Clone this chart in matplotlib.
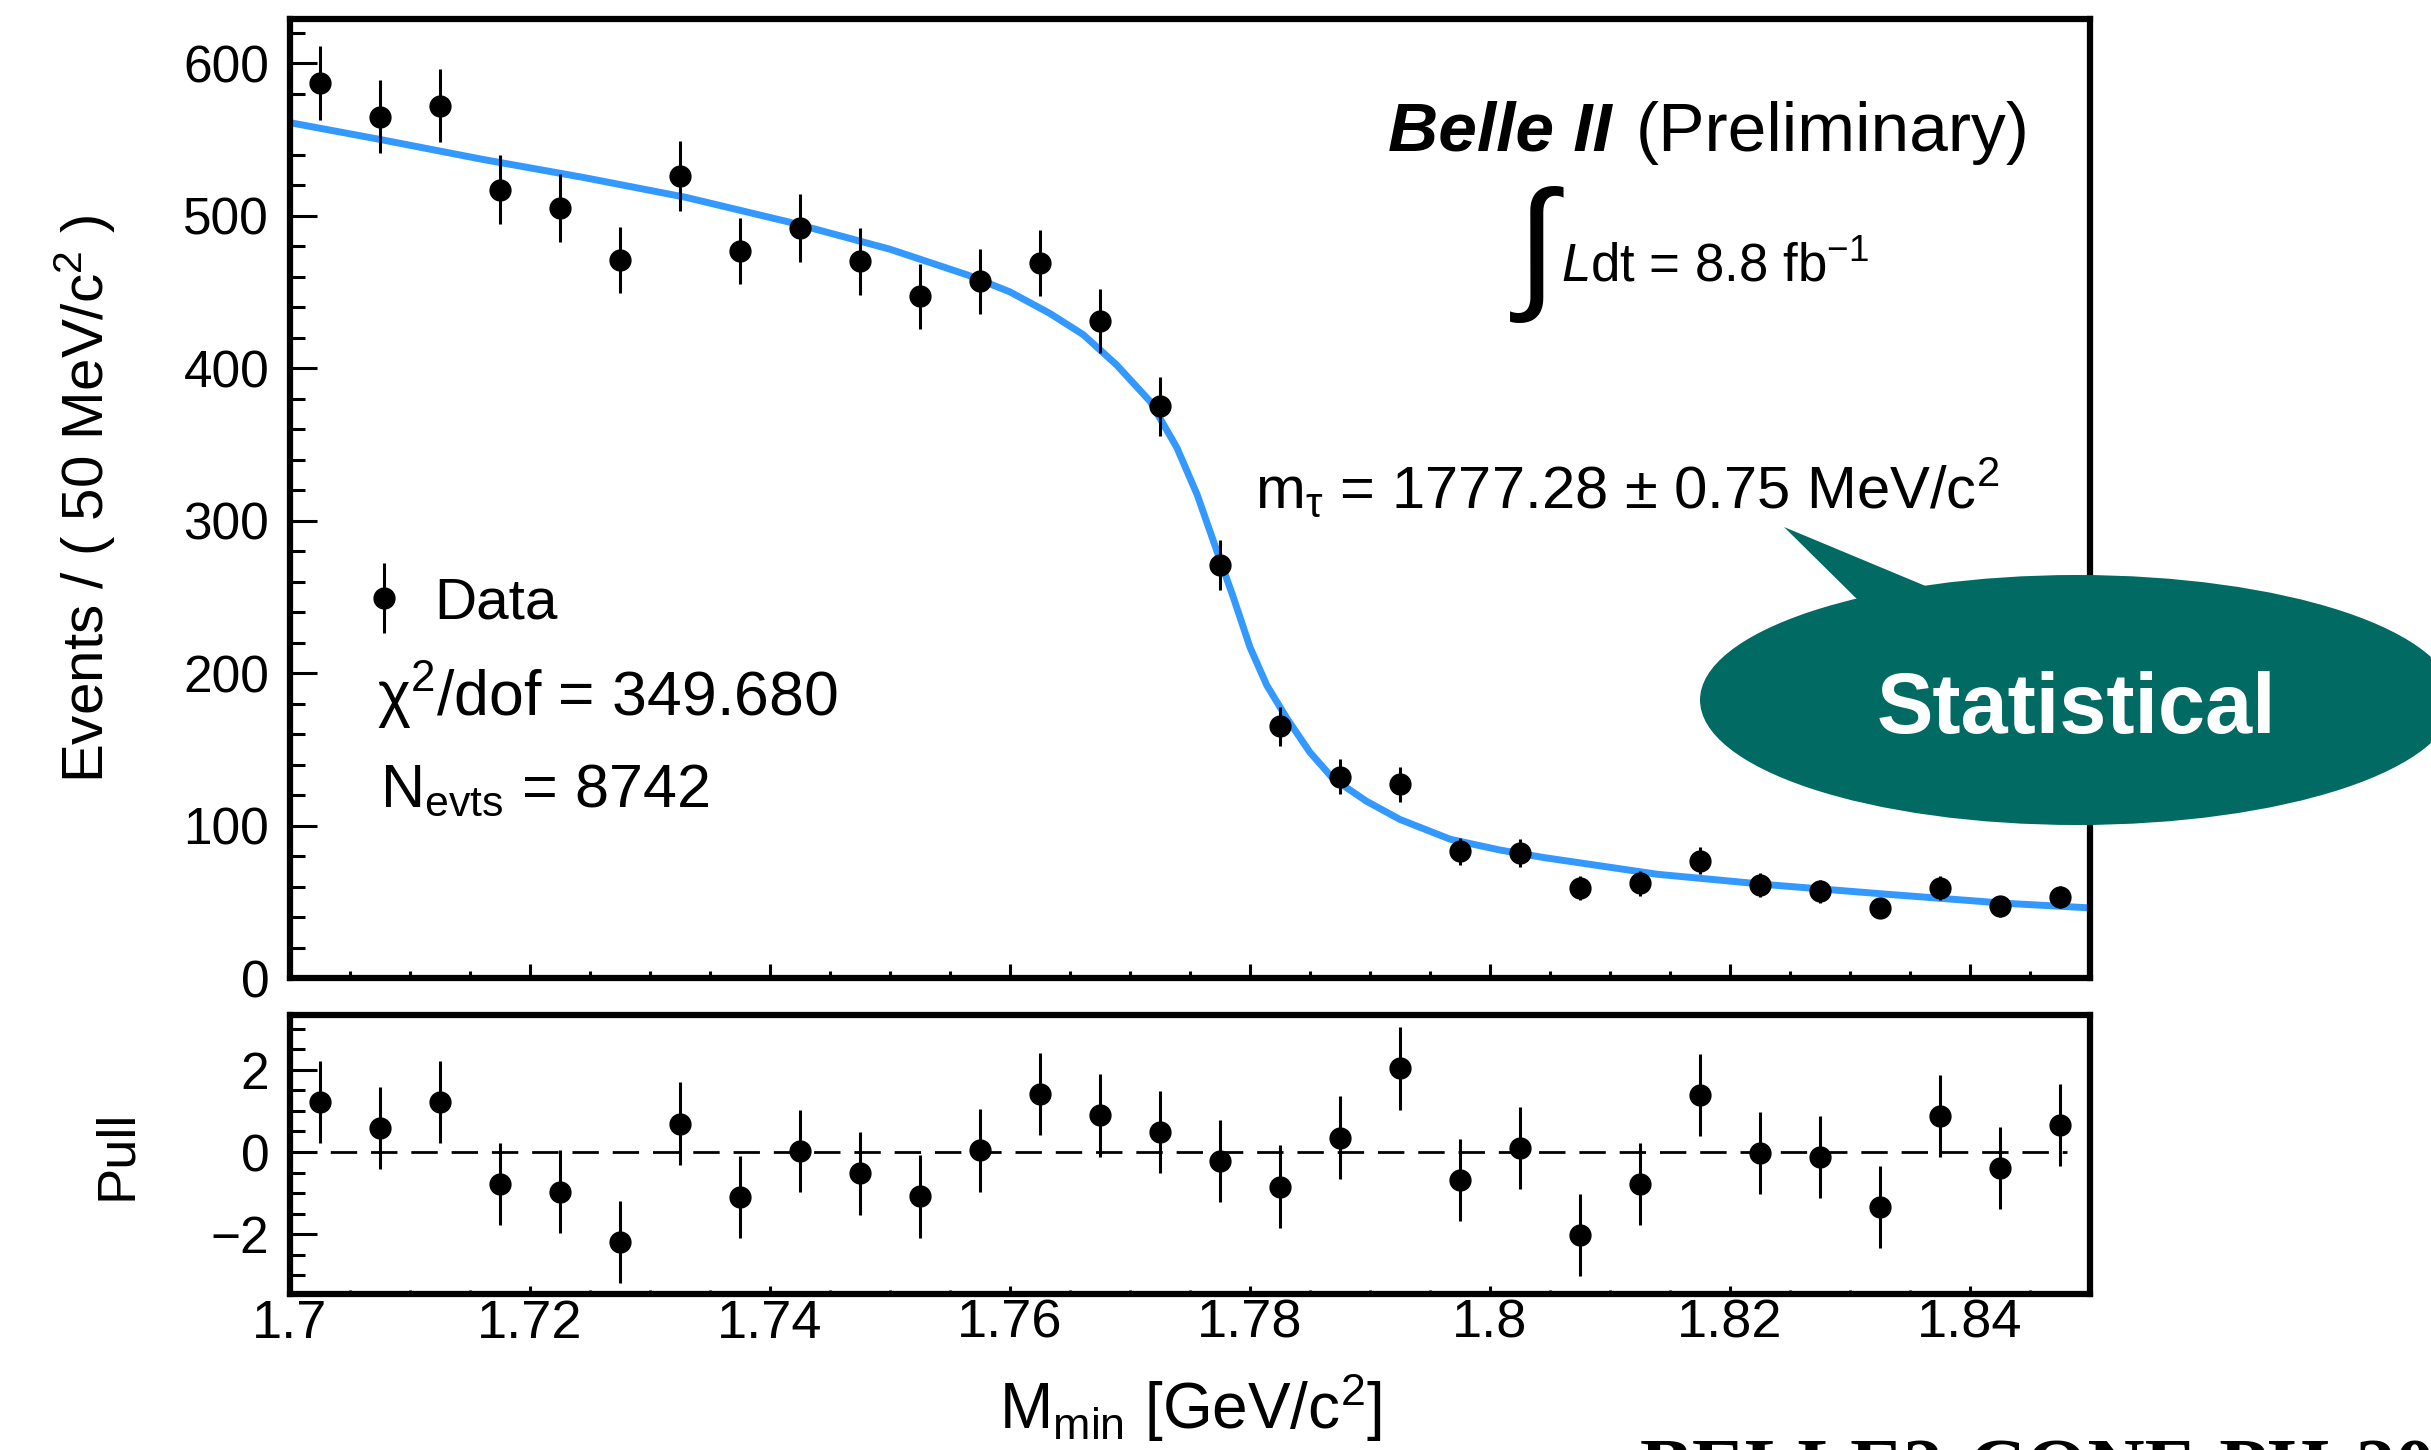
import matplotlib
matplotlib.use("Agg")
import matplotlib.pyplot as plt
from matplotlib.ticker import MultipleLocator, FixedLocator, FuncFormatter
from matplotlib.patches import Ellipse, Polygon
from matplotlib.container import ErrorbarContainer
from matplotlib.legend_handler import HandlerErrorbar

plt.rcParams['font.family'] = ['Liberation Sans', 'DejaVu Sans']
plt.rcParams['mathtext.fontset'] = 'custom'
plt.rcParams['mathtext.rm'] = 'Liberation Sans'
plt.rcParams['mathtext.it'] = 'Liberation Sans:italic'
plt.rcParams['mathtext.bf'] = 'Liberation Sans:bold'
plt.rcParams['mathtext.default'] = 'regular'

#Data: bin centres, counts and errors
bin_x = [1.7025, 1.7075, 1.7125, 1.7175, 1.7225, 1.7275, 1.7325, 1.7375, 1.7425, 1.7475,
         1.7525, 1.7575, 1.7625, 1.7675, 1.7725, 1.7775, 1.7825, 1.7875, 1.7925, 1.7975,
         1.8025, 1.8075, 1.8125, 1.8175, 1.8225, 1.8275, 1.8325, 1.8375, 1.8425, 1.8475]
counts = [587, 565, 572, 517, 505, 471, 526, 477, 492, 470,
          447, 457, 469, 431, 375, 271, 165, 132, 127, 83,
          82, 59, 62, 77, 61, 57, 46, 59, 47, 53]
count_err = [24.2, 23.8, 23.9, 22.7, 22.5, 21.7, 22.9, 21.8, 22.2, 21.7,
             21.1, 21.4, 21.7, 20.8, 19.4, 16.5, 12.8, 11.5, 11.3, 9.1,
             9.1, 7.7, 7.9, 8.8, 7.8, 7.5, 6.8, 7.7, 6.9, 7.3]

#Fit curve
curve_x = [1.7000, 1.7075, 1.7160, 1.7245, 1.7330, 1.7415, 1.7500, 1.7565, 1.7600, 1.7633,
           1.7661, 1.7689, 1.7717, 1.7739, 1.7756, 1.7772, 1.7786, 1.7800, 1.7814, 1.7831,
           1.7850, 1.7869, 1.7897, 1.7925, 1.7967, 1.8008, 1.8045, 1.8140, 1.8235, 1.8330,
           1.8430, 1.8500]
curve_y = [561, 550, 537, 525, 512, 496, 478, 461, 450, 436,
           422, 402, 378, 348, 317, 281, 250, 217, 192, 170,
           148, 131, 116, 104, 91, 84, 79, 68, 61, 55,
           49, 46]

#Pulls
pulls = [1.22, 0.59, 1.21, -0.78, -0.96, -2.19, 0.69, -1.10, 0.02, -0.52,
         -1.08, 0.04, 1.41, 0.89, 0.49, -0.21, -0.84, 0.35, 2.03, -0.68,
         0.10, -2.02, -0.78, 1.38, -0.02, -0.12, -1.33, 0.87, -0.39, 0.66]
pull_err = [1, 1, 1, 1, 1, 1, 1, 1, 1, 1, 1, 1, 1, 1, 1, 1, 1, 1, 1, 1,
            1, 1, 1, 1, 1, 1, 1, 1, 1, 1]

W, H = 2431, 1450
fig = plt.figure(figsize=(W / 100, H / 100), dpi=100)
ax = fig.add_axes([0.1193, 0.3255, 0.7404, 0.6614])
axp = fig.add_axes([0.1193, 0.1076, 0.7404, 0.1924])

#Main panel
ax.plot(curve_x, curve_y, color="#3399ff", lw=5, zorder=2, solid_joinstyle="round")
ax.errorbar(bin_x, counts, yerr=count_err, fmt="o", color="k", ms=15,
            elinewidth=2.2, capsize=0, label="Data", zorder=3)
ax.set_xlim(1.7, 1.85)
ax.set_ylim(0, 629)
ax.xaxis.set_major_locator(MultipleLocator(0.02))
ax.xaxis.set_minor_locator(MultipleLocator(0.005))
ax.yaxis.set_major_locator(MultipleLocator(100))
ax.yaxis.set_minor_locator(MultipleLocator(20))
ax.tick_params(axis="x", which="major", direction="in", length=10, width=2.2, labelbottom=False)
ax.tick_params(axis="x", which="minor", direction="in", length=5.4, width=2.2)
ax.tick_params(axis="y", which="major", direction="in", length=19.4, width=2.2, labelsize=37, pad=15)
ax.tick_params(axis="y", which="minor", direction="in", length=10.8, width=2.2)
ax.set_ylabel("Events / ( 50 MeV/c$^{2}$ )", fontsize=42)
ax.yaxis.set_label_coords(-0.0956, 0.5)

ax.legend(loc="center left", bbox_to_anchor=(0.0393, 0.391), frameon=False, fontsize=42,
          handlelength=0.8, handletextpad=0.46, borderpad=0, borderaxespad=0, numpoints=1,
          handler_map={ErrorbarContainer: HandlerErrorbar(yerr_size=0.6)})
ax.text(0.0483, 0.2732, r"$\chi^{2}$/dof = 349.680", transform=ax.transAxes, fontsize=45, va="baseline")
ax.text(0.05, 0.1794, r"N$_{evts}$ = 8742", transform=ax.transAxes, fontsize=44, va="baseline")

ax.text(0.7344, 0.8624, "Belle II", transform=ax.transAxes, fontsize=50, fontweight="bold",
        fontstyle="italic", ha="right", va="baseline")
ax.text(0.7478, 0.8624, "(Preliminary)", transform=ax.transAxes, fontsize=50, ha="left", va="baseline")
ax.text(0.6928, 0.755, "\u222b", transform=ax.transAxes, fontsize=104, ha="center", va="center",
        family=["Liberation Sans", "DejaVu Sans"])
ax.text(0.706, 0.7268, r"$\mathit{L}$dt = 8.8 fb$^{-1}$", transform=ax.transAxes, fontsize=38, va="baseline")
ax.text(0.536, 0.490, r"m$_{\tau}$ = 1777.28 $\pm$ 0.75 MeV/c$^{2}$", transform=ax.transAxes,
        fontsize=43, va="baseline")

#Pull panel
axp.axhline(0, xmin=0, xmax=0.987, color="k", lw=2, ls=(0, (9.5, 5)), zorder=1)
axp.errorbar(bin_x, pulls, yerr=pull_err, fmt="o", color="k", ms=15,
             elinewidth=2.2, capsize=0, zorder=3)
axp.set_xlim(1.7, 1.85)
axp.set_ylim(-3.45, 3.33)
axp.xaxis.set_major_locator(MultipleLocator(0.02))
axp.xaxis.set_minor_locator(MultipleLocator(0.005))
axp.xaxis.set_major_formatter(FuncFormatter(lambda v, p: "%g" % round(v, 3)))
axp.yaxis.set_major_locator(FixedLocator([-2, 0, 2]))
axp.yaxis.set_minor_locator(MultipleLocator(0.5))
axp.tick_params(axis="x", which="major", direction="in", length=6, width=2.2, labelsize=39, pad=3.5)
axp.tick_params(axis="x", which="minor", direction="in", length=3, width=2.2)
axp.tick_params(axis="y", which="major", direction="in", length=19.4, width=2.2, labelsize=37, pad=15)
axp.tick_params(axis="y", which="minor", direction="in", length=10.8, width=2.2)
axp.set_ylabel("Pull", fontsize=39)
axp.yaxis.set_label_coords(-0.0825, 0.5)
axp.set_xlabel("M$_{min}$ [GeV/c$^{2}$]", fontsize=46, va="baseline")
axp.xaxis.set_label_coords(0.5, -0.484)

for a in (ax, axp):
    for s in a.spines.values():
        s.set_linewidth(4.5)

#Speech bubble
bubble_col = "#016b63"
fig.add_artist(Ellipse((2077 / W, 1 - 700 / H), 754 / W, 250 / H, transform=fig.transFigure,
                       facecolor=bubble_col, edgecolor="none", zorder=10))
fig.add_artist(Polygon([(1784 / W, 1 - 527 / H), (1864 / W, 1 - 606 / H), (1940 / W, 1 - 592 / H)],
                       closed=True, transform=fig.transFigure, facecolor=bubble_col,
                       edgecolor="none", zorder=10))
fig.text(2076 / W, 1 - 733 / H, "Statistical", color="white", fontsize=61, fontweight="bold",
         ha="center", va="baseline", zorder=11)

fig.text(1640 / W, 1 - 1493 / H, "BELLE2-CONF-PH-2020", family="Liberation Serif",
         fontweight="bold", fontsize=57, ha="left", va="baseline")

fig.savefig("out.png", dpi=100)
